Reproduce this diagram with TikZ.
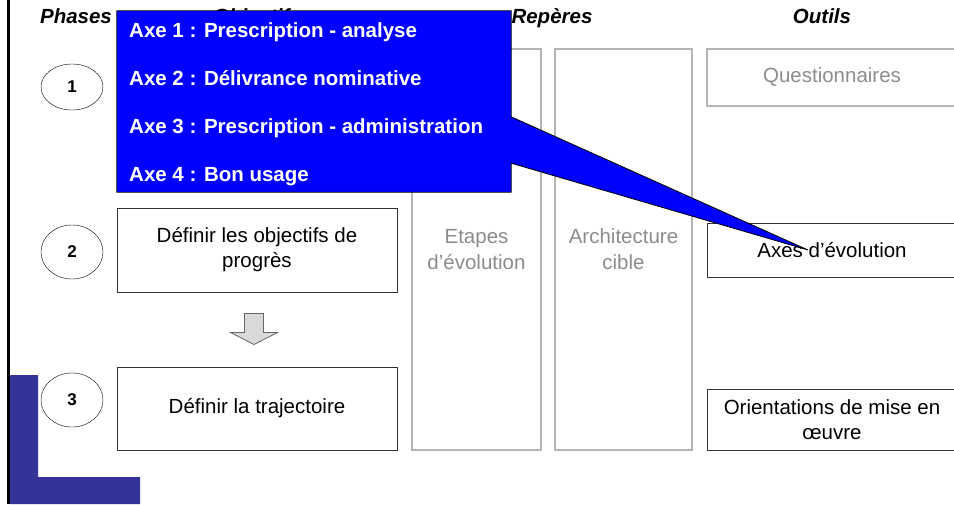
\documentclass[tikz,border=0pt]{standalone}
\usepackage{fontspec}
\setmainfont{Liberation Sans}
\usepackage{xcolor}
\usepackage{tikz}
\usetikzlibrary{shapes,arrows,positioning,calc}

\definecolor{grisclair}{HTML}{B4B4B4}
\definecolor{gristexte}{HTML}{8C8C8C}
\definecolor{bleufonce}{HTML}{333399}

\begin{document}
\begin{tikzpicture}[x=1pt, y=-1pt,
    entete/.style={font=\fontsize{20.5}{24}\selectfont\bfseries\itshape, inner sep=0, anchor=base},
    phase/.style={ellipse, draw, thin, minimum width=62pt, inner sep=0, font=\fontsize{17}{20}\selectfont\bfseries},
    boite/.style={draw=black!80, line width=1pt, align=center, inner sep=0, font=\fontsize{20.5}{25}\selectfont},
    colonne/.style={draw=grisclair, line width=1.3pt, align=center, inner sep=0, text=gristexte, font=\fontsize{20.5}{26}\selectfont},
    axe/.style={anchor=base west, inner sep=0, text=white, font=\fontsize{20.5}{24}\selectfont\bfseries},
    bulle/.style={fill=blue, draw=black, line width=0.8pt, line join=miter},
    fleche/.style={fill=black!15, draw=black!60, line width=0.8pt}]
    \clip (0,0) rectangle (954,504);

    % bandeau a gauche
    \fill[bleufonce] (10,375) -- (38,375) -- (38,477) -- (140,477) -- (140,504) -- (10,504) -- cycle;
    \draw[line width=2.5pt] (8.5,0) -- (8.5,504);

    % en-tetes
    \node[entete] (hphases) at (76,23) {Phases};
    \node[entete] (hobj) at (257,23) {Objectifs};
    \node[entete] (hrep) at (552,23) {Repères};
    \node[entete] (hout) at (822,23) {Outils};

    % phases
    \foreach \n/\y/\h in {1/87/46, 2/252/54, 3/400/54}
        \node[phase, minimum height=\h pt] (ph\n) at (72,\y) {\n};

    % objectifs
    \node[boite, minimum width=280pt, minimum height=84pt] (obj2) at (257,250) {Définir les objectifs de\\progrès};
    \node[boite, minimum width=280pt, minimum height=83pt] (obj3) at (257,408.5) {Définir la trajectoire};
    \coordinate (fl) at ([xshift=-3pt, yshift=-21pt]obj2.south);
    \draw[fleche] (fl) ++(-9.5,0) -- ++(19,0) -- ++(0,19) -- ++(14,0) -- ++(-23.5,12) -- ++(-23.5,-12) -- ++(14,0) -- cycle;

    % reperes
    \node[colonne, minimum width=129pt, minimum height=401pt] (etapes) at (476.5,249.5) {Etapes\\d’évolution};
    \node[colonne, minimum width=137pt, minimum height=401pt] (archi) at (623.5,249.5) {Architecture\\cible};

    % outils
    \node[colonne, minimum width=250pt, minimum height=57pt] (quest) at (832,77.5) {Questionnaires};
    \node[boite, minimum width=250pt, minimum height=54pt] (axes) at (832,250) {Axes d’évolution};
    \node[boite, minimum width=250pt, minimum height=61pt] (orient) at (832,419.5) {Orientations de mise en\\œuvre};

    % bulle des axes
    \node[minimum width=394pt, minimum height=181pt, inner sep=0] (cadre) at (314,101.5) {};
    \coordinate (pointe) at ([xshift=-24pt]axes.center);
    \draw[bulle] (cadre.north west) -- (cadre.north east) -- ([yshift=-106pt]cadre.north east) -- (pointe)
        -- ([yshift=29pt]cadre.south east) -- (cadre.south east) -- (cadre.south west) -- cycle;
    \foreach \i/\txt in {1/Prescription - analyse, 2/Délivrance nominative, 3/Prescription - administration, 4/Bon usage}
        \node[axe] (axe\i) at (129,{37+48*(\i-1)}) {Axe \i\ : \txt};
\end{tikzpicture}
\end{document}
